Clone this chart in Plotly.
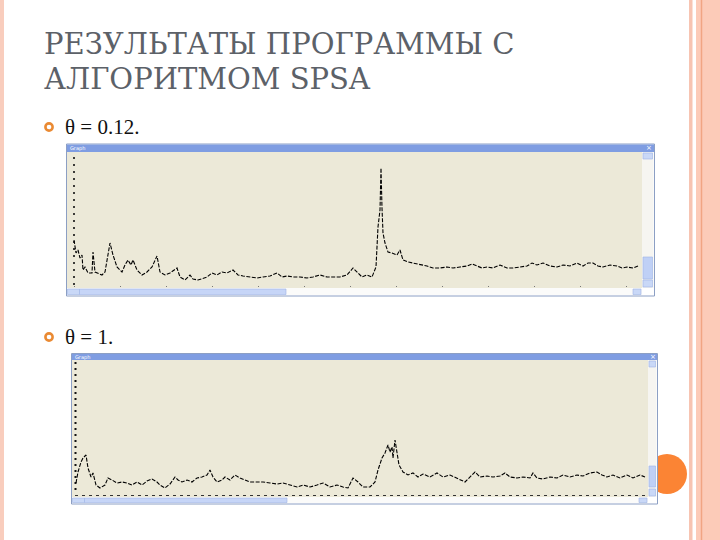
import plotly.graph_objects as go

# ---------------- data ----------------
# window 1: theta = 0.12
iter_1 = [0, 2, 4, 6, 8, 9, 11, 14, 18, 19,
          21, 24, 28, 31, 36, 39, 43, 48, 51, 54,
          57, 59, 63, 68, 73, 78, 83, 86, 91, 96,
          103, 106, 111, 116, 119, 124, 133, 138, 143, 148,
          153, 159, 164, 169, 176, 183, 189, 196, 203, 208,
          213, 219, 226, 233, 239, 246, 253, 259, 266, 273,
          279, 284, 288, 293, 298, 302, 304, 306, 307, 308,
          309, 311, 314, 318, 323, 326, 329, 334, 339, 346,
          353, 359, 366, 373, 379, 386, 393, 398, 403, 408,
          413, 419, 426, 433, 439, 446, 453, 458, 463, 469,
          476, 483, 489, 496, 503, 509, 514, 519, 524, 529,
          536, 543, 548, 553, 559, 564]
value_1 = [46, 33, 36, 28, 31, 16, 19, 13, 13, 34,
           14, 13, 11, 14, 43, 31, 19, 14, 21, 26,
           21, 26, 16, 11, 14, 19, 30, 14, 11, 13,
           18, 9, 6, 11, 7, 6, 9, 13, 11, 14,
           13, 16, 11, 10, 9, 8, 9, 10, 13, 9,
           10, 9, 9, 8, 9, 11, 9, 9, 9, 11,
           18, 13, 9, 11, 9, 19, 59, 76, 118, 78,
           53, 43, 34, 33, 31, 36, 26, 24, 23, 21,
           20, 18, 18, 19, 18, 19, 20, 22, 20, 18,
           19, 18, 21, 18, 18, 19, 20, 23, 21, 23,
           20, 19, 21, 20, 23, 20, 23, 23, 20, 19,
           21, 20, 18, 19, 18, 20]

# window 2: theta = 1
iter_2 = [1, 3, 6, 8, 11, 13, 16, 18, 21, 25,
          30, 33, 37, 42, 47, 52, 57, 62, 67, 72,
          77, 82, 85, 90, 95, 100, 103, 107, 112, 117,
          122, 127, 132, 135, 138, 142, 147, 150, 155, 160,
          165, 170, 175, 182, 188, 195, 202, 208, 215, 222,
          228, 235, 242, 248, 255, 262, 268, 273, 278, 283,
          288, 295, 300, 303, 307, 310, 313, 315, 317, 318,
          320, 322, 324, 328, 333, 338, 343, 348, 355, 362,
          368, 375, 382, 390, 397, 400, 405, 412, 418, 425,
          430, 435, 442, 448, 455, 458, 462, 468, 475, 482,
          488, 495, 502, 508, 515, 522, 527, 532, 538, 545,
          552, 558, 565, 570]
value_2 = [13, 24, 34, 38, 41, 28, 19, 23, 11, 8,
           11, 18, 16, 13, 14, 13, 11, 14, 11, 15,
           17, 14, 11, 8, 12, 19, 16, 14, 16, 14,
           18, 19, 21, 26, 19, 14, 16, 19, 16, 21,
           18, 16, 14, 14, 14, 13, 12, 13, 11, 9,
           11, 9, 11, 13, 9, 11, 9, 8, 18, 14,
           9, 9, 14, 26, 38, 43, 51, 44, 49, 38,
           56, 41, 31, 24, 21, 23, 19, 22, 19, 23,
           19, 21, 18, 14, 21, 24, 19, 20, 19, 20,
           23, 19, 18, 19, 18, 23, 18, 17, 19, 18,
           21, 19, 21, 20, 23, 24, 21, 19, 21, 18,
           21, 18, 21, 19]

title_lines = ["РЕЗУЛЬТАТЫ ПРОГРАММЫ С", "АЛГОРИТМОМ SPSA"]
bullet_texts = ["θ = 0.12.", "θ = 1."]

TITLE_FONT = "DejaVu Serif, Liberation Serif, serif"
BODY_FONT = "Liberation Serif, Times New Roman, serif"

# ---------------- helpers ----------------
W, H = 720, 540


def X(px):
    return px / W


def Y(py):
    return 1 - py / H


shapes = []


def rect(x0, y0, x1, y1, fill, line=None, lw=0):
    shapes.append(dict(type="rect", xref="paper", yref="paper", layer="below",
                       x0=X(x0), x1=X(x1), y0=Y(y1), y1=Y(y0),
                       fillcolor=fill,
                       line=dict(color=line or fill, width=lw)))


def hline(x0, x1, y, color, width, dash):
    shapes.append(dict(type="line", xref="paper", yref="paper", layer="below",
                       x0=X(x0), x1=X(x1), y0=Y(y), y1=Y(y),
                       line=dict(color=color, width=width, dash=dash)))


def vline(x, y0, y1, color, width, dash):
    shapes.append(dict(type="line", xref="paper", yref="paper", layer="below",
                       x0=X(x), x1=X(x), y0=Y(y0), y1=Y(y1),
                       line=dict(color=color, width=width, dash=dash)))


def circle(cx, cy, r, fill, line, lw):
    shapes.append(dict(type="circle", xref="paper", yref="paper", layer="below",
                       x0=X(cx - r), x1=X(cx + r), y0=Y(cy + r), y1=Y(cy - r),
                       fillcolor=fill, line=dict(color=line, width=lw)))


# ---------------- slide decoration ----------------
rect(0, 0, 4, 540, "#f9cdbd")
rect(689, 0, 692.5, 540, "#f7c4b2")
rect(696, 0, 720, 540, "#fccbb8")
vline(701.5, 0, 540, "#f1a583", 1.5, "solid")
circle(667, 474, 20, "#fb8434", "#fb8434", 0)

# bullets
circle(49, 127, 3.6, "white", "#ea8a33", 2.6)
circle(49, 337, 3.6, "white", "#ea8a33", 2.6)

BLUE_BAR = "#7f9de2"
BTN = "#c9d8f7"
BTN_LINE = "#9db4e6"
BEIGE = "#ece9d8"


def window(l, t, r, b, tb_b, plot_r, plot_b, vthumb, hthumb_r):
    rect(l, t, r, b, "#ffffff", "#8c9fc4", 1)
    rect(l + 0.5, t + 0.5, r - 0.5, tb_b, BLUE_BAR)
    rect(l + 0.5, tb_b, plot_r, plot_b, BEIGE)
    rect(plot_r, tb_b, r - 1, plot_b, "#f6f5f1")
    rect(plot_r + 1, tb_b + 1, r - 2, tb_b + 7, BTN, BTN_LINE, 0.6)
    rect(plot_r + 1, vthumb[0], r - 2, vthumb[1], "#bfd0f6", BTN_LINE, 0.6)
    rect(plot_r + 1, plot_b - 8, r - 2, plot_b - 1, BTN, BTN_LINE, 0.6)
    rect(l + 0.5, plot_b, plot_r, b - 1, "#fbfbfa")
    rect(l + 1, plot_b + 1, l + 13, b - 1.5, BTN, BTN_LINE, 0.6)
    rect(l + 13, plot_b + 1, hthumb_r, b - 1.5, "#c6d5f7", BTN_LINE, 0.6)
    rect(plot_r - 9, plot_b + 1, plot_r - 1, b - 1.5, BTN, BTN_LINE, 0.6)


window(66.5, 144, 654.5, 296, 152, 642, 288, (257, 279), 286)
window(71.5, 353.5, 657.5, 504, 360, 648, 497, (466, 487), 287)

# dotted axes of the little graph windows
vline(74, 157, 287, "#111111", 1.6, "2px,5px")
hline(74, 640, 286.5, "#777777", 1, "1px,45px")
vline(75.5, 362, 494, "#111111", 2, "2px,4px")
hline(75, 646, 495.5, "#333333", 1, "3px,4px")

# ---------------- figure ----------------
fig = go.Figure()
fig.add_trace(go.Scatter(x=iter_1, y=value_1, mode="lines", xaxis="x", yaxis="y",
                         line=dict(color="black", width=1.1, dash="4px,1.5px"),
                         showlegend=False, hoverinfo="skip"))
fig.add_trace(go.Scatter(x=iter_2, y=value_2, mode="lines", xaxis="x2", yaxis="y2",
                         line=dict(color="black", width=1.1, dash="4px,1.5px"),
                         showlegend=False, hoverinfo="skip"))

hidden = dict(showgrid=False, zeroline=False, showticklabels=False,
              showline=False, ticks="", fixedrange=True)

annotations = [
    dict(text=title_lines[0], x=X(43), y=Y(44.5), xanchor="left", yanchor="middle",
         font=dict(family=TITLE_FONT, size=29, color="#5c6168")),
    dict(text=title_lines[1], x=X(43), y=Y(78.5), xanchor="left", yanchor="middle",
         font=dict(family=TITLE_FONT, size=29, color="#5c6168")),
    dict(text=bullet_texts[0], x=X(64), y=Y(126.5), xanchor="left", yanchor="middle",
         font=dict(family=BODY_FONT, size=21, color="#111111")),
    dict(text=bullet_texts[1], x=X(64), y=Y(336.5), xanchor="left", yanchor="middle",
         font=dict(family=BODY_FONT, size=21, color="#111111")),
    dict(text="Graph", x=X(69), y=Y(148.3), xanchor="left", yanchor="middle",
         font=dict(family="DejaVu Sans", size=5, color="white")),
    dict(text="Graph", x=X(74), y=Y(357.2), xanchor="left", yanchor="middle",
         font=dict(family="DejaVu Sans", size=5, color="white")),
    dict(text="×", x=X(649), y=Y(148.3), xanchor="center", yanchor="middle",
         font=dict(family="DejaVu Sans", size=7, color="white")),
    dict(text="×", x=X(653), y=Y(357.2), xanchor="center", yanchor="middle",
         font=dict(family="DejaVu Sans", size=7, color="white")),
]
for a in annotations:
    a.update(xref="paper", yref="paper", showarrow=False, borderpad=0)

fig.update_layout(
    width=W, height=H,
    margin=dict(l=0, r=0, t=0, b=0),
    paper_bgcolor="white",
    plot_bgcolor="rgba(0,0,0,0)",
    shapes=shapes,
    annotations=annotations,
    xaxis=dict(domain=[X(67), X(642)], range=[-7, 568], anchor="y", **hidden),
    yaxis=dict(domain=[Y(288), Y(152)], range=[-2, 134], anchor="x", **hidden),
    xaxis2=dict(domain=[X(72), X(648)], range=[-3, 573], anchor="y2", **hidden),
    yaxis2=dict(domain=[Y(497), Y(360)], range=[-1, 136], anchor="x2", **hidden),
)

fig.write_html(
    "out.html",
    config={"displayModeBar": False},
    post_script="document.body.style.margin='0';document.body.style.padding='0';",
)
